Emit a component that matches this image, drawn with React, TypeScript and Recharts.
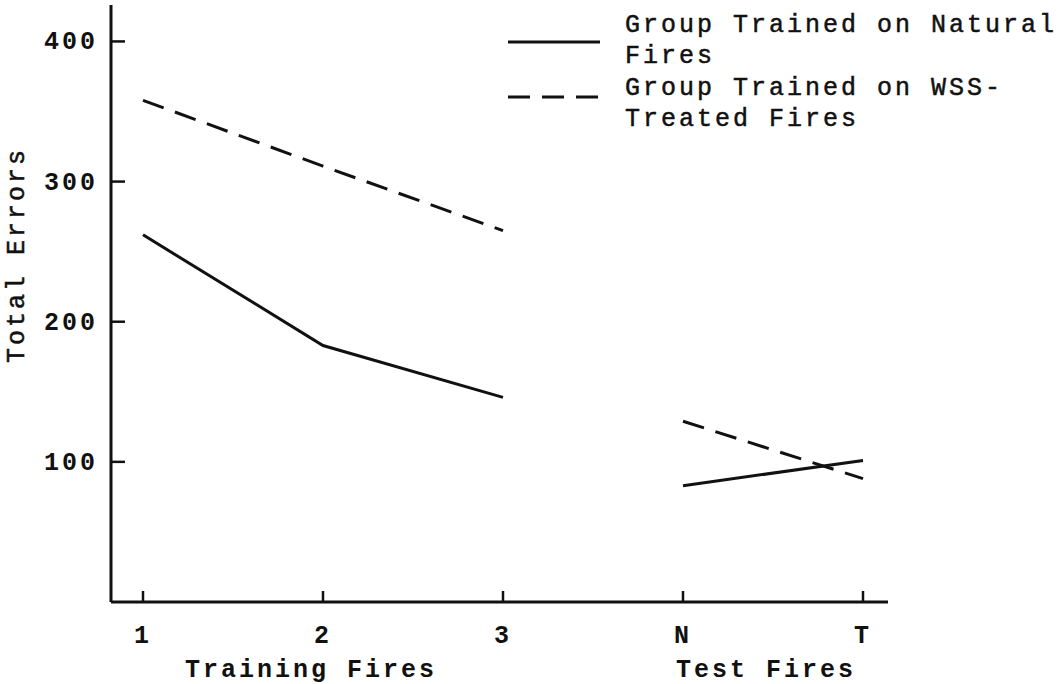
import { Legend, Line, LineChart, XAxis, YAxis } from "recharts";

const categories = ["1", "2", "3", "N", "T"];
const phases = ["training", "training", "training", "test", "test"];
const naturalErrors = [262, 183, 146, 83, 101];
const wssErrors = [358, 311, 265, 129, 88];
const yTicks = [100, 200, 300, 400];
const groupLabels: Record<string, string> = { "2": "Training Fires", N: "Test Fires" };
const legendLines = [
  ["Group Trained on Natural", "Fires"],
  ["Group Trained on WSS-", "Treated Fires"],
];

const data = categories.map((cat, i) => {
  const train = phases[i] === "training";
  return {
    cat,
    natTrain: train ? naturalErrors[i] : null,
    natTest: train ? null : naturalErrors[i],
    wssTrain: train ? wssErrors[i] : null,
    wssTest: train ? null : wssErrors[i],
  };
});

const INK = "#111";
const FONT = "'Liberation Mono', 'DejaVu Sans Mono', monospace";
const DASH = "22 12";

const XTick = (props: any) => {
  const { x, y, payload } = props;
  const group = groupLabels[payload.value];
  return (
    <g>
      <line x1={x} x2={x} y1={y} y2={y - 11} stroke={INK} strokeWidth={2.5} />
      <text x={x} y={y + 41} textAnchor="middle" fill={INK} fontFamily={FONT} fontSize={25} fontWeight="bold" letterSpacing={3}>
        {payload.value}
      </text>
      {group && (
        <text
          x={payload.value === "N" ? x - 7 : x - 12}
          y={y + 75}
          textAnchor={payload.value === "N" ? "start" : "middle"}
          fill={INK}
          fontFamily={FONT}
          fontSize={25}
          fontWeight="bold"
          letterSpacing={3}
        >
          {group}
        </text>
      )}
    </g>
  );
};

const YTick = (props: any) => {
  const { x, y, payload } = props;
  return (
    <g>
      <line x1={x} x2={x + 14} y1={y} y2={y} stroke={INK} strokeWidth={2.5} />
      <text x={x - 13} y={y + 8} textAnchor="end" fill={INK} fontFamily={FONT} fontSize={25} fontWeight="bold" letterSpacing={3}>
        {payload.value}
      </text>
    </g>
  );
};

const LegendBox = () => (
  <svg width={564} height={135}>
    {legendLines.map((rows, i) => (
      <g key={i}>
        <line
          x1={8}
          x2={100}
          y1={i === 0 ? 42 : 97}
          y2={i === 0 ? 42 : 97}
          stroke={INK}
          strokeWidth={3}
          strokeDasharray={i === 0 ? undefined : DASH}
        />
        {rows.map((r, j) => (
          <text
            key={j}
            x={125}
            y={32 + (i * 2 + j) * 31.3}
            fill={INK}
            stroke={INK}
            strokeWidth={0.5}
            fontFamily={FONT}
            fontSize={25}
            letterSpacing={3}
          >
            {r}
          </text>
        ))}
      </g>
    ))}
  </svg>
);

const App = () => (
  <div style={{ position: "absolute", left: 0, top: 0, background: "#fff" }}>
    <LineChart width={1064} height={684} data={data} margin={{ top: 5, right: 176, bottom: 0, left: 0 }}>
      <XAxis
        dataKey="cat"
        scale="point"
        interval={0}
        padding={{ left: 32, right: 25 }}
        height={82}
        tickSize={0}
        tickMargin={0}
        tickLine={false}
        tick={<XTick />}
        axisLine={{ stroke: INK, strokeWidth: 3 }}
      />
      <YAxis
        domain={[0, 426]}
        ticks={yTicks}
        width={111}
        tickSize={0}
        tickMargin={0}
        tickLine={false}
        tick={<YTick />}
        axisLine={{ stroke: INK, strokeWidth: 3 }}
        label={{
          content: (p: any) => {
            const vb = p.viewBox || { x: 0, y: 5 };
            const cx = vb.x + 17;
            const cy = vb.y + 250;
            return (
              <text
                x={cx}
                y={cy}
                transform={`rotate(-90 ${cx} ${cy})`}
                textAnchor="middle"
                dominantBaseline="central"
                fill={INK}
                stroke={INK}
                strokeWidth={0.5}
                fontFamily={FONT}
                fontSize={25}
                letterSpacing={3}
              >
                Total Errors
              </text>
            );
          },
        }}
      />
      <Legend
        layout="vertical"
        align="center"
        verticalAlign="middle"
        content={() => <LegendBox />}
        wrapperStyle={{ position: "absolute", left: 500, top: 0, width: 564, height: 135 }}
      />
      <Line dataKey="natTrain" name="Group Trained on Natural Fires" stroke={INK} strokeWidth={3} dot={false} isAnimationActive={false} />
      <Line dataKey="natTest" legendType="none" stroke={INK} strokeWidth={3} dot={false} isAnimationActive={false} />
      <Line dataKey="wssTrain" name="Group Trained on WSS-Treated Fires" stroke={INK} strokeWidth={3} strokeDasharray={DASH} dot={false} isAnimationActive={false} />
      <Line dataKey="wssTest" legendType="none" stroke={INK} strokeWidth={3} strokeDasharray={DASH} dot={false} isAnimationActive={false} />
    </LineChart>
  </div>
);

export default App;
